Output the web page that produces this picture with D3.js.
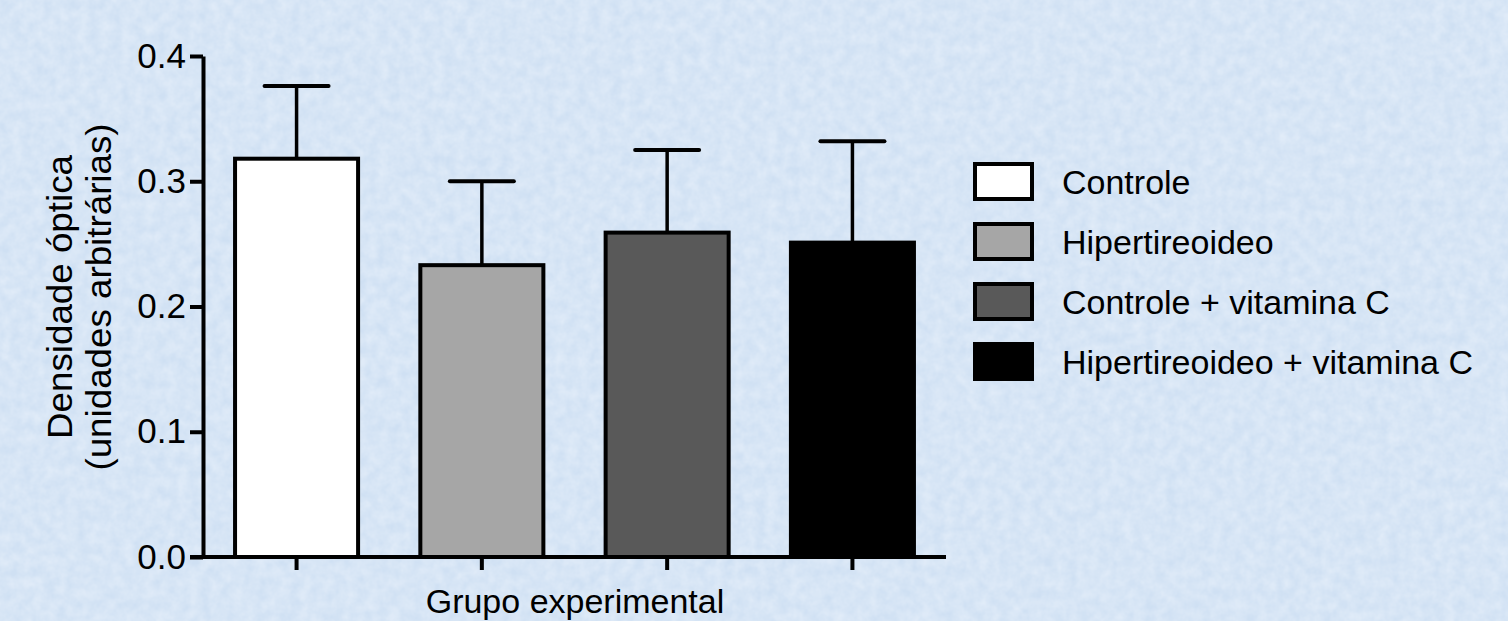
<!DOCTYPE html>
<html>
<head>
<meta charset="utf-8">
<script src="https://cdn.jsdelivr.net/npm/d3@7"></script>
<style>
  body { margin: 0; background: #d5e4f3; }
  svg { display: block; }
  text { font-family: "Liberation Sans", Arial, sans-serif; fill: #000; }
</style>
</head>
<body>
<div id="chart"></div>
<script>
// data
const groups = ["Controle", "Hipertireoideo", "Controle + vitamina C", "Hipertireoideo + vitamina C"];
const means = [0.318, 0.233, 0.259, 0.251];
const errUpper = [0.376, 0.300, 0.325, 0.332];
const fills = ["#ffffff", "#a6a6a6", "#595959", "#000000"];
const yTicks = [0.0, 0.1, 0.2, 0.3, 0.4];

const width = 1508, height = 621;

const svg = d3.select("#chart")
    .append("svg")
    .attr("width", width)
    .attr("height", height);

// textured pale blue background
const defs = svg.append("defs");
const filt = defs.append("filter").attr("id", "paper").attr("x", 0).attr("y", 0).attr("width", "100%").attr("height", "100%");
filt.append("feTurbulence").attr("type", "fractalNoise").attr("baseFrequency", 0.09).attr("numOctaves", 3).attr("seed", 4).attr("result", "n");
filt.append("feColorMatrix").attr("in", "n").attr("type", "matrix")
    .attr("values", "0 0 0 0 0.93  0 0 0 0 0.96  0 0 0 0 1  0 0 0 0.6 -0.1");
svg.append("rect").attr("width", width).attr("height", height).attr("fill", "#cfe0f3");
svg.append("rect").attr("width", width).attr("height", height).attr("filter", "url(#paper)");

const x = d3.scaleBand()
    .domain(groups)
    .range([203, 946])
    .paddingInner(0.336)
    .paddingOuter(0.173);

const y = d3.scaleLinear()
    .domain([0, 0.4])
    .range([557, 56]);

const g = svg.append("g");

// bars
g.selectAll(".bar")
    .data(groups)
    .join("rect")
    .attr("class", "bar")
    .attr("x", d => x(d))
    .attr("width", x.bandwidth())
    .attr("y", (d, i) => y(means[i]))
    .attr("height", (d, i) => y(0) - y(means[i]))
    .attr("fill", (d, i) => fills[i])
    .attr("stroke", "#000")
    .attr("stroke-width", 4);

// error bars (upper only)
const capHalf = 32;
g.selectAll(".err")
    .data(groups)
    .join("line")
    .attr("class", "err")
    .attr("x1", d => x(d) + x.bandwidth() / 2)
    .attr("x2", d => x(d) + x.bandwidth() / 2)
    .attr("y1", (d, i) => y(means[i]))
    .attr("y2", (d, i) => y(errUpper[i]))
    .attr("stroke", "#000")
    .attr("stroke-width", 3.5);
g.selectAll(".cap")
    .data(groups)
    .join("line")
    .attr("class", "cap")
    .attr("x1", d => x(d) + x.bandwidth() / 2 - capHalf)
    .attr("x2", d => x(d) + x.bandwidth() / 2 + capHalf)
    .attr("y1", (d, i) => y(errUpper[i]))
    .attr("y2", (d, i) => y(errUpper[i]))
    .attr("stroke", "#000")
    .attr("stroke-width", 4)
    .attr("stroke-linecap", "round");

// y axis
const yAxis = g.append("g")
    .attr("transform", "translate(203,0)")
    .call(d3.axisLeft(y).tickValues(yTicks).tickFormat(d3.format(".1f")).tickSize(13).tickSizeOuter(0).tickPadding(4));

// x axis
const xAxis = g.append("g")
    .attr("transform", "translate(0,557)")
    .call(d3.axisBottom(x).tickSize(13).tickSizeOuter(0).tickFormat(""));

[yAxis, xAxis].forEach(a => {
    a.select(".domain").attr("stroke", "#000").attr("stroke-width", 4);
    a.selectAll(".tick line").attr("stroke", "#000").attr("stroke-width", 4);
});
xAxis.select(".domain").attr("d", "M190,0H946");
yAxis.selectAll(".tick text")
    .attr("font-size", 35)
    .attr("font-family", "Liberation Sans, Arial, sans-serif")
    .attr("fill", "#000");

// axis titles
const yt = svg.append("text")
    .attr("transform", "translate(0,297) rotate(-90) scale(1.05,1)")
    .attr("text-anchor", "middle")
    .attr("font-size", 35);
yt.append("tspan").attr("x", 0).attr("y", 72).text("Densidade óptica");
yt.append("tspan").attr("x", 0).attr("y", 111).text("(unidades arbitrárias)");

svg.append("text")
    .attr("x", 575)
    .attr("y", 613)
    .attr("text-anchor", "middle")
    .attr("font-size", 34)
    .text("Grupo experimental");

// legend
const legend = svg.append("g").attr("transform", "translate(975,164)");
const row = legend.selectAll(".row")
    .data(groups)
    .join("g")
    .attr("class", "row")
    .attr("transform", (d, i) => `translate(0,${i * 60})`);
row.append("rect")
    .attr("width", 57)
    .attr("height", 35)
    .attr("fill", (d, i) => fills[i])
    .attr("stroke", "#000")
    .attr("stroke-width", 4);
row.append("text")
    .attr("x", 87)
    .attr("y", 30)
    .attr("font-size", 34)
    .text(d => d);
</script>
</body>
</html>
